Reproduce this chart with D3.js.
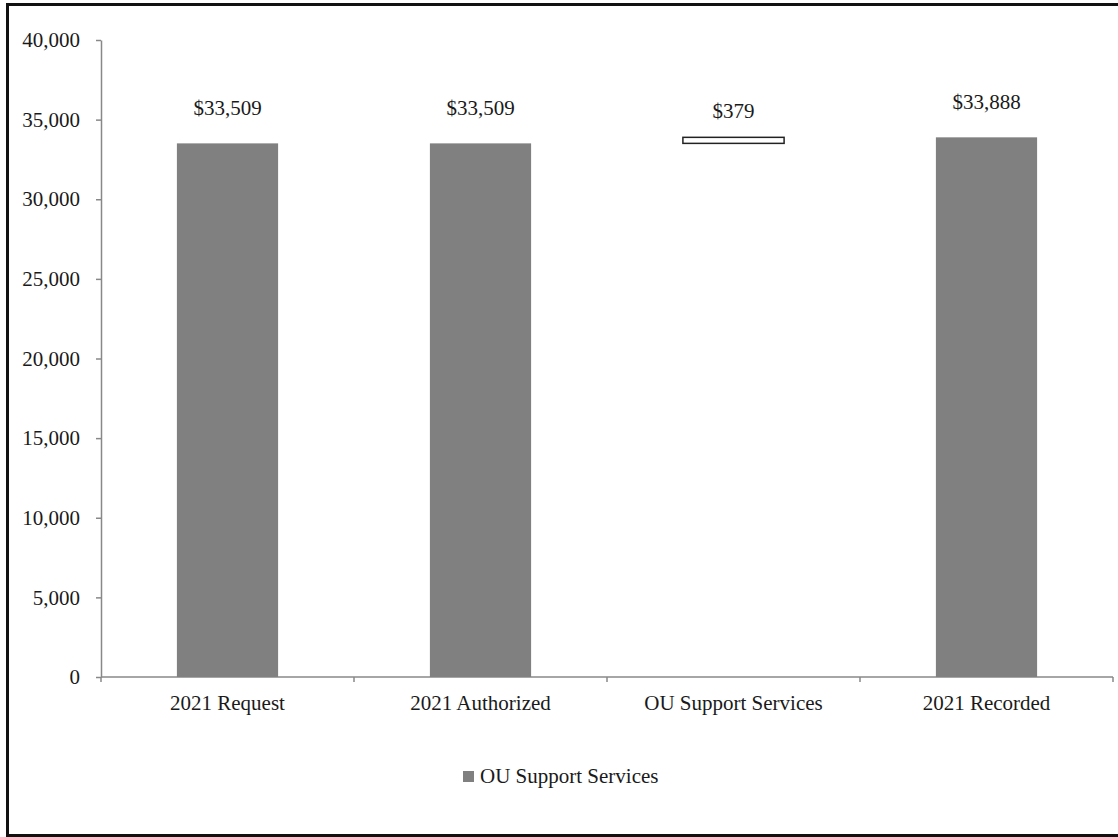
<!DOCTYPE html>
<html>
<head>
<meta charset="utf-8">
<script src="https://cdn.jsdelivr.net/npm/d3@7"></script>
<style>
  html, body { margin: 0; padding: 0; background: #fff; }
  svg { display: block; }
  text { font-family: "Liberation Serif", "Times New Roman", serif; fill: #1a1a1a; }
</style>
</head>
<body>
<svg id="chart" width="1118" height="837"></svg>
<script>
// Budget walk: request -> authorized -> adjustment -> recorded
const categories = ["2021 Request", "2021 Authorized", "OU Support Services", "2021 Recorded"];
const barBase   = [0, 0, 33509, 0];        // where each bar starts
const barValue  = [33509, 33509, 379, 33888]; // bar height / labelled amount
const barKind   = ["total", "total", "change", "total"];
const yTicks    = [0, 5000, 10000, 15000, 20000, 25000, 30000, 35000, 40000];
const legendLabel = "OU Support Services";

(function draw() {
  const svg = d3.select("#chart");
  const fontSize = "21px";

  // Outer frame
  svg.append("rect")
    .attr("x", 7.5).attr("y", 4.5)
    .attr("width", 1118).attr("height", 831)
    .attr("fill", "none").attr("stroke", "#111").attr("stroke-width", 3);

  const plotLeft = 101, plotRight = 1113, plotTop = 40, plotBottom = 677;

  const x = d3.scaleBand().domain(categories).range([plotLeft, plotRight]).paddingInner(0.6).paddingOuter(0.3);
  const y = d3.scaleLinear().domain([0, 40000]).range([plotBottom, plotTop]);

  const fmt = d3.format(",");
  const axisColor = "#888888";

  // Y axis
  const yAxis = svg.append("g")
    .attr("transform", `translate(${plotLeft},0)`)
    .call(d3.axisLeft(y).tickValues(yTicks).tickFormat(fmt).tickSize(5).tickSizeOuter(0).tickPadding(16));
  yAxis.select(".domain").attr("stroke", axisColor).attr("stroke-width", 1.5);
  yAxis.selectAll(".tick line").attr("stroke", axisColor).attr("stroke-width", 1.5);
  yAxis.selectAll(".tick text").style("font-size", fontSize).attr("fill", "#1a1a1a")
    .style("font-family", '"Liberation Serif", serif');

  // X axis baseline with boundary ticks between categories
  const xb = svg.append("g").attr("transform", `translate(0,${plotBottom})`);
  xb.append("line").attr("x1", plotLeft).attr("x2", plotRight).attr("y1", 0).attr("y2", 0)
    .attr("stroke", axisColor).attr("stroke-width", 1.5);
  const step = (plotRight - plotLeft) / categories.length;
  d3.range(categories.length + 1).forEach(i => {
    xb.append("line")
      .attr("x1", plotLeft + i * step).attr("x2", plotLeft + i * step)
      .attr("y1", 0).attr("y2", 5)
      .attr("stroke", axisColor).attr("stroke-width", 1.5);
  });
  xb.selectAll("text.cat").data(categories).join("text")
    .attr("class", "cat")
    .attr("x", d => x(d) + x.bandwidth() / 2)
    .attr("y", 33)
    .attr("text-anchor", "middle")
    .style("font-size", fontSize)
    .text(d => d);

  // Bars
  const bars = categories.map((c, i) => ({ c, base: barBase[i], v: barValue[i], kind: barKind[i] }));

  svg.selectAll("rect.bar").data(bars).join("rect")
    .attr("class", "bar")
    .attr("x", d => x(d.c))
    .attr("width", x.bandwidth())
    .attr("y", d => y(d.base + d.v))
    .attr("height", d => y(d.base) - y(d.base + d.v))
    .attr("fill", d => d.kind === "total" ? "#808080" : "#ffffff")
    .attr("stroke", d => d.kind === "total" ? "none" : "#222")
    .attr("stroke-width", 1.5);

  // Value labels
  svg.selectAll("text.val").data(bars).join("text")
    .attr("class", "val")
    .attr("x", d => x(d.c) + x.bandwidth() / 2)
    .attr("y", d => y(d.base + d.v) - (d.kind === "total" ? 28 : 19))
    .attr("text-anchor", "middle")
    .style("font-size", fontSize)
    .text(d => "$" + fmt(d.v));

  // Legend
  const lg = svg.append("g").attr("transform", "translate(463,771)");
  lg.append("rect").attr("width", 11).attr("height", 11).attr("fill", "#808080");
  lg.append("text").attr("x", 17).attr("y", 12).style("font-size", fontSize).text(legendLabel);
})();
</script>
</body>
</html>
